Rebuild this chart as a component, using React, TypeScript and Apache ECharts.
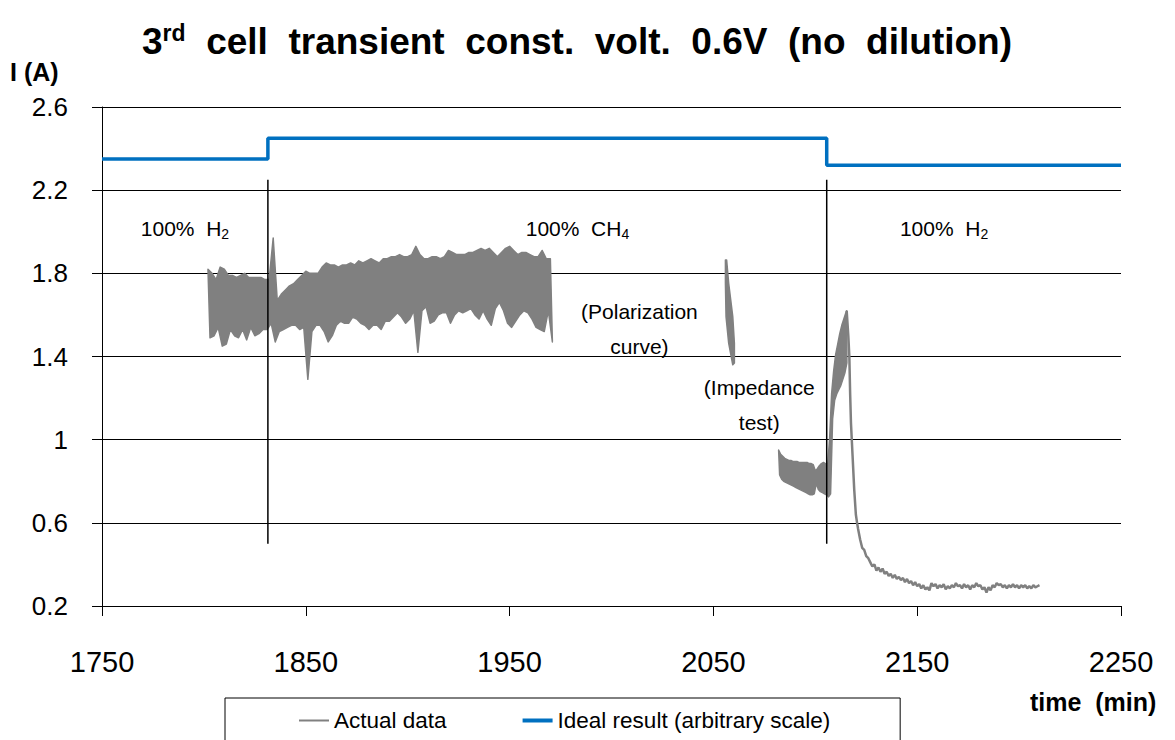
import React, { useEffect, useRef } from "react";
import * as echarts from "echarts";

const FONT = '"Liberation Sans", Arial, Helvetica, sans-serif';

// Oscillating current during the H2 -> CH4 run: upper / lower envelope, one pair every 2 min
const bandStart = 1802;
const bandStep = 2;
const bandHi = [
  1.82, 1.8, 1.77, 1.83, 1.82, 1.79, 1.79, 1.78, 1.79, 1.8, 1.78, 1.78, 1.78, 1.78, 1.77, 1.77,
  1.97, 1.67, 1.7, 1.72, 1.74, 1.75, 1.77, 1.79, 1.81, 1.8, 1.8, 1.8, 1.83, 1.85, 1.84, 1.84,
  1.83, 1.84, 1.84, 1.85, 1.84, 1.86, 1.85, 1.86, 1.87, 1.86, 1.85, 1.87, 1.87, 1.88, 1.88, 1.89,
  1.88, 1.88, 1.89, 1.93, 1.89, 1.87, 1.87, 1.88, 1.88, 1.87, 1.88, 1.91, 1.9, 1.89, 1.89, 1.89,
  1.9, 1.9, 1.91, 1.92, 1.91, 1.92, 1.9, 1.88, 1.9, 1.92, 1.93, 1.91, 1.89, 1.9, 1.9, 1.89,
  1.88, 1.88, 1.91, 1.87, 1.87,
];
const bandLo = [
  1.49, 1.5, 1.54, 1.45, 1.46, 1.53, 1.5, 1.49, 1.53, 1.48, 1.54, 1.5, 1.51, 1.53, 1.53, 1.56,
  1.47, 1.52, 1.53, 1.54, 1.55, 1.55, 1.53, 1.54, 1.29, 1.52, 1.55, 1.55, 1.52, 1.47, 1.5, 1.55,
  1.57, 1.56, 1.56, 1.59, 1.58, 1.56, 1.55, 1.53, 1.55, 1.55, 1.53, 1.57, 1.57, 1.59, 1.61, 1.59,
  1.56, 1.58, 1.62, 1.42, 1.62, 1.64, 1.56, 1.57, 1.6, 1.61, 1.61, 1.56, 1.6, 1.62, 1.61, 1.62,
  1.63, 1.6, 1.58, 1.62, 1.58, 1.55, 1.63, 1.66, 1.62, 1.56, 1.54, 1.57, 1.6, 1.62, 1.61, 1.58,
  1.54, 1.53, 1.52, 1.62, 1.47,
];

// Polarization curve sweep: outline of the narrow trace
const polT = [2055.9, 2055.9, 2056.2, 2057.5, 2059.5, 2060.3, 2060.3, 2059.5, 2057.5, 2056.5];
const polV = [1.864, 1.752, 1.592, 1.464, 1.36, 1.369, 1.464, 1.592, 1.752, 1.864];

// Impedance test: envelope every minute
const impStart = 2082;
const impHi = [
  0.95, 0.93, 0.92, 0.91, 0.905, 0.9, 0.9, 0.895, 0.895, 0.895, 0.89, 0.89, 0.89, 0.89, 0.89,
  0.885, 0.885, 0.88, 0.85, 0.86, 0.875, 0.885, 0.89, 0.885, 0.87,
];
const impLo = [
  0.83, 0.81, 0.8, 0.795, 0.79, 0.785, 0.78, 0.775, 0.77, 0.765, 0.76, 0.755, 0.75, 0.745, 0.74,
  0.735, 0.735, 0.74, 0.79, 0.76, 0.75, 0.745, 0.74, 0.735, 0.725,
];

// Back to H2: current recovery, envelope every minute (continues the impedance record)
const riseHi = [1.0, 1.22, 1.33, 1.41, 1.46, 1.51, 1.55, 1.58, 1.61];
const riseLo = [0.74, 1.1, 1.19, 1.22, 1.24, 1.26, 1.29, 1.32, 1.37];

// Collapse after the peak
const fallT = [2115.4, 2116.2, 2116.7, 2117.1, 2117.5, 2118.3, 2119.1, 2119.9, 2120.5];
const fallV = [1.62, 1.5, 1.4, 1.22, 1.08, 0.92, 0.76, 0.64, 0.6];

// Settled current, one reading per minute
const tailStart = 2121;
const tailV = [
  0.57, 0.52, 0.48, 0.47, 0.44, 0.43, 0.41, 0.39, 0.4, 0.37, 0.385, 0.365, 0.38, 0.355, 0.365,
  0.345, 0.355, 0.335, 0.35, 0.33, 0.34, 0.325, 0.335, 0.315, 0.33, 0.31, 0.32, 0.3, 0.315, 0.295,
  0.305, 0.285, 0.3, 0.28, 0.29, 0.275, 0.31, 0.295, 0.305, 0.285, 0.3, 0.29, 0.305, 0.28, 0.295,
  0.285, 0.3, 0.29, 0.31, 0.295, 0.3, 0.285, 0.305, 0.29, 0.3, 0.28, 0.3, 0.29, 0.31, 0.295,
  0.3, 0.28, 0.29, 0.265, 0.29, 0.275, 0.3, 0.29, 0.31, 0.3, 0.305, 0.29, 0.3, 0.285, 0.3,
  0.29, 0.305, 0.29, 0.3, 0.285, 0.3, 0.29, 0.3, 0.285, 0.295, 0.285, 0.3, 0.29, 0.295, 0.3,
];

// Ideal response (arbitrary scale)
const idealT = [1750, 1831.4, 1831.4, 2105.6, 2105.6, 2250];
const idealV = [2.35, 2.35, 2.45, 2.45, 2.32, 2.32];

// Fuel switch instants
const switchT = [1831.4, 2105.6];
const switchRange = [0.5, 2.25];

// Region / event notes placed in data coordinates
const notes = [
  { t: 1790.7, v: 2.018, text: "{n|100%  H}{sub|2}" },
  { t: 1983.3, v: 2.018, text: "{n|100%  CH}{sub|4}" },
  { t: 2163.2, v: 2.018, text: "{n|100%  H}{sub|2}" },
  { t: 2013.7, v: 1.532, text: "{n|(Polarization}\n{n|curve)}" },
  { t: 2072.5, v: 1.168, text: "{n|(Impedance}\n{n|test)}" },
];

const X_MIN = 1750;
const X_MAX = 2250;
const X_STEP = 100;
const Y_MIN = 0.2;
const Y_MAX = 2.6;
const Y_STEP = 0.4;

const GRAY = "#808080";
const BLUE = "#0070C0";

type Outline = { upper: number[][]; lower: number[][] };

// Envelope bands: upper edge at each sample, lower edge half a step later
function envelope(start: number, step: number, hi: number[], lo: number[]): Outline {
  return {
    upper: hi.map((h, i) => [start + i * step, h]),
    lower: lo.map((l, i) => [start + i * step + step / 2, l]),
  };
}

function buildOutlines(): Outline[] {
  const ch4 = envelope(bandStart, bandStep, bandHi, bandLo);
  const late = envelope(impStart, 1, impHi.concat(riseHi), impLo.concat(riseLo));
  late.upper.push([fallT[0], fallV[0]]);
  const half = polT.length / 2;
  const pol = {
    upper: polT.slice(0, half).map((t, i) => [t, polV[i]]),
    lower: polT.slice(half).map((t, i) => [t, polV[half + i]]).reverse(),
  };
  return [ch4, pol, late];
}

export default function App() {
  const ref = useRef<HTMLDivElement>(null);

  useEffect(() => {
    if (!ref.current) return;
    const chart = echarts.init(ref.current, undefined, { renderer: "svg" });

    const outlines = buildOutlines();

    const switchData: any[] = [];
    switchT.forEach((t, i) => {
      if (i > 0) switchData.push([t, "-"]);
      switchData.push([t, switchRange[0]], [t, switchRange[1]]);
    });

    const lineData: any[] = fallT.map((t, i) => [t, fallV[i]]);
    tailV.forEach((v, i) => lineData.push([tailStart + i, v]));

    chart.setOption({
      animation: false,
      backgroundColor: "#fff",
      textStyle: { fontFamily: FONT },
      title: {
        text: "3{sup|rd}  cell  transient  const.  volt.  0.6V  (no  dilution)",
        left: 572,
        textAlign: "center",
        top: 16,
        textStyle: {
          fontFamily: FONT,
          fontWeight: "bold",
          fontSize: 37,
          color: "#000",
          rich: {
            sup: { fontFamily: FONT, fontWeight: "bold", fontSize: 23, color: "#000", padding: [0, 0, 18, 0] },
          },
        },
      },
      grid: { left: 102, right: 54, top: 107, bottom: 134, containLabel: false },
      legend: {
        data: [
          { name: "Actual data", icon: "path://M0,0H30V2H0Z" },
          { name: "Ideal result (arbitrary scale)", icon: "path://M0,0H30V4H0Z" },
        ],
        left: 225,
        top: 698,
        orient: "horizontal",
        padding: [11, 70, 30, 74],
        itemGap: 76,
        itemWidth: 30,
        itemHeight: 14,
        symbolKeepAspect: true,
        borderColor: "#000",
        borderWidth: 1,
        textStyle: { fontFamily: FONT, fontSize: 22.5, color: "#000" },
      },
      xAxis: {
        type: "value",
        min: X_MIN,
        max: X_MAX,
        interval: X_STEP,
        axisLine: { show: true, lineStyle: { color: "#000", width: 1 } },
        axisTick: { show: true, length: 10, lineStyle: { color: "#000" } },
        axisLabel: {
          fontFamily: FONT,
          fontSize: 29,
          color: "#000",
          margin: 41,
          formatter: (v: number) => String(v),
        },
        splitLine: { show: false },
      },
      yAxis: {
        type: "value",
        min: Y_MIN,
        max: Y_MAX,
        interval: Y_STEP,
        axisLine: { show: true, lineStyle: { color: "#000", width: 1 } },
        axisTick: { show: true, length: 10, lineStyle: { color: "#000" } },
        axisLabel: {
          fontFamily: FONT,
          fontSize: 26,
          color: "#000",
          margin: 34,
          formatter: (v: number) => String(Math.round(v * 10) / 10),
        },
        splitLine: { show: true, lineStyle: { color: "#000", width: 1 } },
      },
      graphic: [
        {
          type: "text",
          left: 10,
          top: 59,
          style: { text: "I (A)", font: `bold 25px ${FONT}`, fill: "#000" },
        },
        {
          type: "text",
          left: 1030,
          top: 689,
          style: { text: "time  (min)", font: `bold 25px ${FONT}`, fill: "#000" },
        },
      ],
      series: [
        {
          name: "Actual data",
          type: "line",
          data: lineData,
          symbol: "none",
          showSymbol: false,
          lineStyle: { color: GRAY, width: 2.5 },
          itemStyle: { color: GRAY },
          z: 2,
        },
        {
          name: "Actual data",
          type: "custom",
          data: outlines.map((o, i) => [o.upper[0][0], o.upper[0][1], i]),
          encode: { x: 0, y: 1 },
          silent: true,
          z: 2,
          renderItem: (params: any, api: any) => {
            const o = outlines[api.value(2)];
            const pts = o.upper.map((p) => api.coord(p));
            for (let k = o.lower.length - 1; k >= 0; k--) pts.push(api.coord(o.lower[k]));
            return {
              type: "polygon",
              shape: { points: pts },
              style: { fill: GRAY, stroke: GRAY, lineWidth: 1.5, lineJoin: "round" },
            };
          },
        },
        {
          name: "Ideal result (arbitrary scale)",
          type: "line",
          data: idealT.map((t, i) => [t, idealV[i]]),
          symbol: "none",
          showSymbol: false,
          lineStyle: { color: BLUE, width: 3.5 },
          itemStyle: { color: BLUE },
          z: 3,
        },
        {
          name: "switch",
          type: "line",
          data: switchData,
          symbol: "none",
          showSymbol: false,
          connectNulls: false,
          lineStyle: { color: "#000", width: 1.5 },
          itemStyle: { color: "#000" },
          silent: true,
          z: 4,
        },
        {
          name: "notes",
          type: "scatter",
          symbol: "circle",
          symbolSize: 0,
          itemStyle: { color: "#000", opacity: 1 },
          silent: true,
          z: 5,
          data: notes.map((n) => ({ value: [n.t, n.v], name: n.text })),
          label: {
            show: true,
            position: "inside",
            formatter: (p: any) => p.name,
            align: "center",
            color: "#000",
            opacity: 1,
            textBorderWidth: 0,
            lineHeight: 35,
            rich: {
              n: { fontFamily: FONT, fontSize: 21, color: "#000", lineHeight: 35, textBorderWidth: 0 },
              sub: { fontFamily: FONT, fontSize: 14, color: "#000", padding: [12, 0, 0, 0], textBorderWidth: 0 },
            },
          },
        },
      ],
    });

    return () => chart.dispose();
  }, []);

  return (
    <div
      ref={ref}
      style={{ position: "fixed", left: 0, top: 0, width: 1175, height: 740, background: "#fff" }}
    />
  );
}
